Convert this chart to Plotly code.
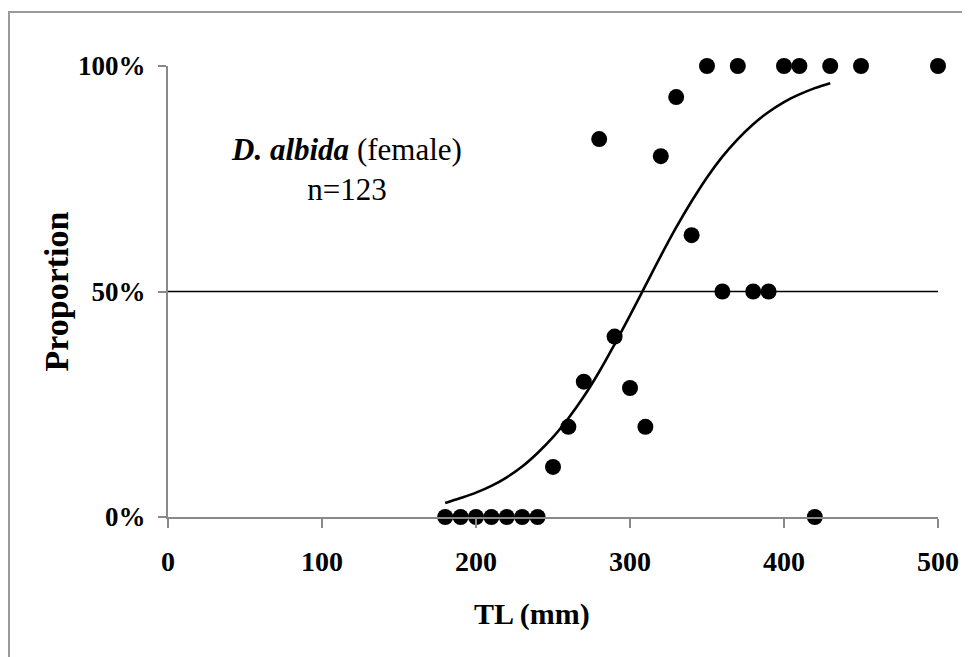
import plotly.graph_objects as go

# ---- data ----
tl_mm = [180, 190, 200, 210, 220, 230, 240, 250, 260, 270, 280, 290, 300, 310,
         320, 330, 340, 350, 360, 370, 380, 390, 400, 410, 420, 430, 450, 500]
proportion = [0.0, 0.0, 0.0, 0.0, 0.0, 0.0, 0.0, 0.111, 0.20, 0.30, 0.838, 0.40,
              0.286, 0.20, 0.80, 0.931, 0.625, 1.0, 0.50, 1.0, 0.50, 0.50, 1.0,
              1.0, 0.0, 1.0, 1.0, 1.0]

curve_x = [180, 190, 200, 210, 220, 230, 240, 250, 260, 270, 280, 290, 300,
           310, 320, 330, 340, 350, 360, 370, 380, 390, 400, 410, 420, 430]
curve_y = [0.031, 0.042, 0.054, 0.069, 0.088, 0.112, 0.142, 0.177, 0.219, 0.267,
           0.322, 0.383, 0.447, 0.513, 0.579, 0.642, 0.700, 0.753, 0.799, 0.838,
           0.871, 0.898, 0.920, 0.937, 0.951, 0.962]

ref_x = [0, 500]
ref_y = [0.5, 0.5]

x_ticks = [0, 100, 200, 300, 400, 500]
y_ticks = [0, 0.5, 1.0]
y_ticklabels = ["0%", "50%", "100%"]

FONT = "Liberation Serif"
AXIS_GRAY = "#898989"

fig = go.Figure()
fig.add_trace(go.Scatter(x=ref_x, y=ref_y, mode="lines",
                         line=dict(color="black", width=1.6),
                         showlegend=False, hoverinfo="skip"))
fig.add_trace(go.Scatter(x=curve_x, y=curve_y, mode="lines",
                         line=dict(color="black", width=2.6, shape="spline"),
                         showlegend=False))
fig.add_trace(go.Scatter(x=tl_mm, y=proportion, mode="markers",
                         marker=dict(color="black", size=16),
                         cliponaxis=False, showlegend=False))

fig.update_layout(
    width=970, height=657,
    margin=dict(l=160, r=40, t=58, b=148),
    plot_bgcolor="white", paper_bgcolor="white",
    font=dict(family=FONT, color="black"),
    xaxis=dict(range=[0, 500], tickvals=x_ticks, showgrid=False, zeroline=False,
               showline=True, linecolor=AXIS_GRAY, linewidth=2,
               ticks="outside", ticklen=9, tickwidth=2, tickcolor=AXIS_GRAY,
               ticklabelstandoff=9,
               tickfont=dict(family=FONT, size=28, color="black", weight="bold")),
    yaxis=dict(range=[0, 1], tickvals=y_ticks, ticktext=y_ticklabels,
               showgrid=False, zeroline=False,
               showline=True, linecolor=AXIS_GRAY, linewidth=2,
               ticks="outside", ticklen=8, tickwidth=2, tickcolor=AXIS_GRAY,
               ticklabelstandoff=7,
               tickfont=dict(family=FONT, size=27, color="black", weight="bold")),
    shapes=[dict(type="rect", xref="paper", yref="paper",
                 x0=-0.2065, x1=1.2, y0=-0.5, y1=1.1197,
                 line=dict(color="#9a9a9a", width=2), layer="below")],
    annotations=[
        dict(x=116, y=0.77, xref="x", yref="y",
             text="<b><i>D. albida</i></b> (female)<br>n=123",
             showarrow=False, align="center",
             xanchor="center", yanchor="middle",
             font=dict(family=FONT, size=31, color="black")),
        dict(x=0.4727, y=0, xref="paper", yref="paper",
             text="<b>TL (mm)</b>", showarrow=False,
             xanchor="center", yanchor="middle", yshift=-97,
             font=dict(family=FONT, size=30, color="black")),
        dict(x=0, y=0.5, xref="paper", yref="paper",
             text="<b>Proportion</b>", showarrow=False, textangle=-90,
             xanchor="center", yanchor="middle", xshift=-112,
             font=dict(family=FONT, size=34, color="black")),
    ],
)

fig.write_html("out.html")
